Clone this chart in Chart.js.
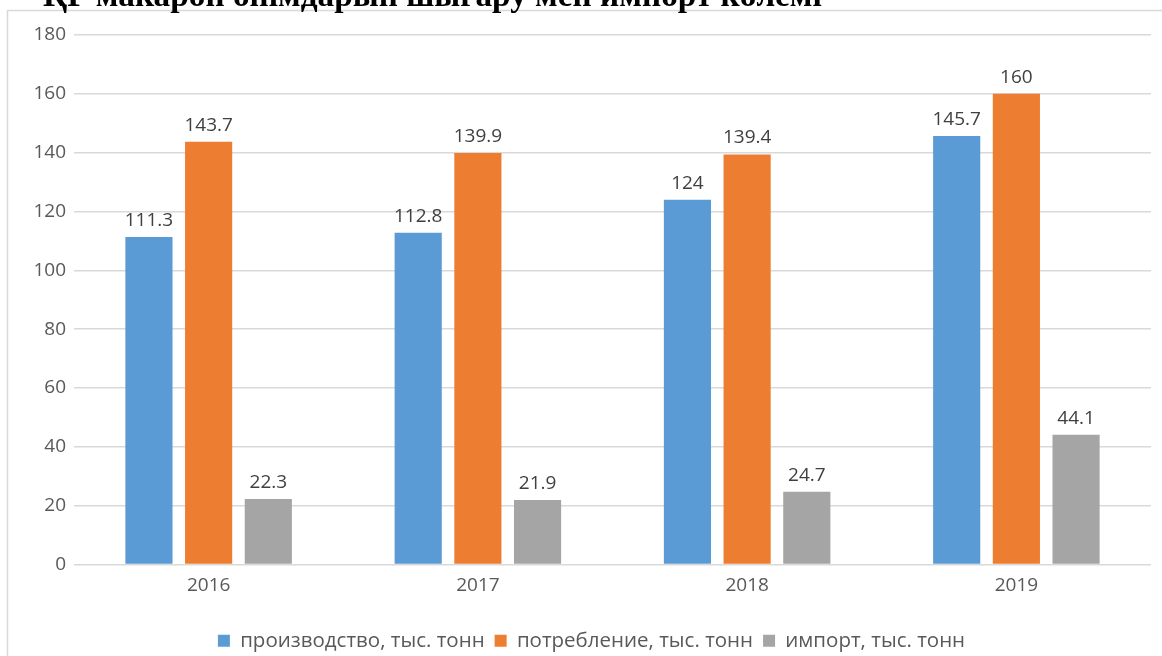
<!DOCTYPE html>
<html>
<head>
<meta charset="utf-8">
<script src="https://cdn.jsdelivr.net/npm/chart.js"></script>
<style>
  html, body { margin: 0; padding: 0; background: #fff; overflow: hidden; }
  #wrap { position: relative; width: 1162px; height: 656px; }
</style>
</head>
<body>
<div id="wrap"><canvas id="chart"></canvas></div>
<script>
// Data
var years = ['2016', '2017', '2018', '2019'];
var production = [111.3, 112.8, 124, 145.7];
var consumption = [143.7, 139.9, 139.4, 160];
var imports = [22.3, 21.9, 24.7, 44.1];
var seriesNames = ['производство, тыс. тонн', 'потребление, тыс. тонн', 'импорт, тыс. тонн'];
var titleText = 'ҚР макарон өнімдарын шығару мен импорт көлемі';

var FONT = '"Open Sans", sans-serif';

// title cut off at the top + light frame around the chart
var framePlugin = {
  id: 'frame',
  afterLayout: function(chart){
    // legend in the reference sits a bit right of centre
    if (chart.legend) { chart.legend.left += 16; chart.legend.right += 16; }
  },
  beforeDraw: function(chart){
    var ctx = chart.ctx;
    ctx.save();
    ctx.fillStyle = '#fff';
    ctx.fillRect(0, 0, chart.width, chart.height);
    ctx.strokeStyle = '#d9d9d9';
    ctx.lineWidth = 1.5;
    ctx.strokeRect(7.5, 10.5, chart.width + 20, chart.height + 20);
    ctx.fillStyle = '#000';
    ctx.font = 'bold 100px "Liberation Serif", serif';
    var w = ctx.measureText(titleText).width;
    var size = 100 * 780 / w;
    ctx.font = 'bold ' + size.toFixed(1) + 'px "Liberation Serif", serif';
    ctx.textBaseline = 'alphabetic';
    ctx.fillText(titleText, 43, 6);
    ctx.restore();
  }
};

// value labels above the bars
var valueLabels = {
  id: 'valueLabels',
  afterDatasetsDraw: function(chart){
    var ctx = chart.ctx;
    ctx.save();
    ctx.font = '19px ' + FONT;
    ctx.fillStyle = '#404040';
    ctx.textAlign = 'center';
    ctx.textBaseline = 'alphabetic';
    chart.data.datasets.forEach(function(ds, i){
      chart.getDatasetMeta(i).data.forEach(function(bar, j){
        ctx.fillText(String(ds.data[j]), bar.x, bar.y - 11);
      });
    });
    ctx.restore();
  }
};

new Chart(document.getElementById('chart').getContext('2d'), {
  type: 'bar',
  data: {
    labels: years,
    datasets: [
      { label: seriesNames[0], data: production, backgroundColor: '#5b9bd5' },
      { label: seriesNames[1], data: consumption, backgroundColor: '#ed7d31' },
      { label: seriesNames[2], data: imports, backgroundColor: '#a5a5a5' }
    ]
  },
  options: {
    responsive: true,
    maintainAspectRatio: false,
    animation: false,
    devicePixelRatio: 1,
    datasets: { bar: { categoryPercentage: 0.665, barPercentage: 0.79 } },
    layout: { padding: { left: 0, right: 11, top: 35, bottom: -5 } },
    plugins: {
      legend: {
        position: 'bottom',
        labels: {
          boxWidth: 12, boxHeight: 12, padding: 10,
          color: '#595959',
          font: { family: FONT, size: 20.5, lineHeight: 1 }
        }
      },
      tooltip: { enabled: false },
      title: { display: false }
    },
    scales: {
      x: {
        grid: { display: false },
        border: { display: false },
        ticks: { color: '#595959', padding: 2, font: { family: FONT, size: 19 } },
        afterFit: function(scale){ scale.height = 56; }
      },
      y: {
        min: 0, max: 180,
        ticks: { stepSize: 20, color: '#595959', padding: 8, font: { family: FONT, size: 19 } },
        grid: { color: '#d9d9d9', lineWidth: 1.5, drawTicks: false },
        border: { display: false },
        afterFit: function(scale){ scale.width = 74; }
      }
    }
  },
  plugins: [framePlugin, valueLabels]
});
</script>
</body>
</html>
